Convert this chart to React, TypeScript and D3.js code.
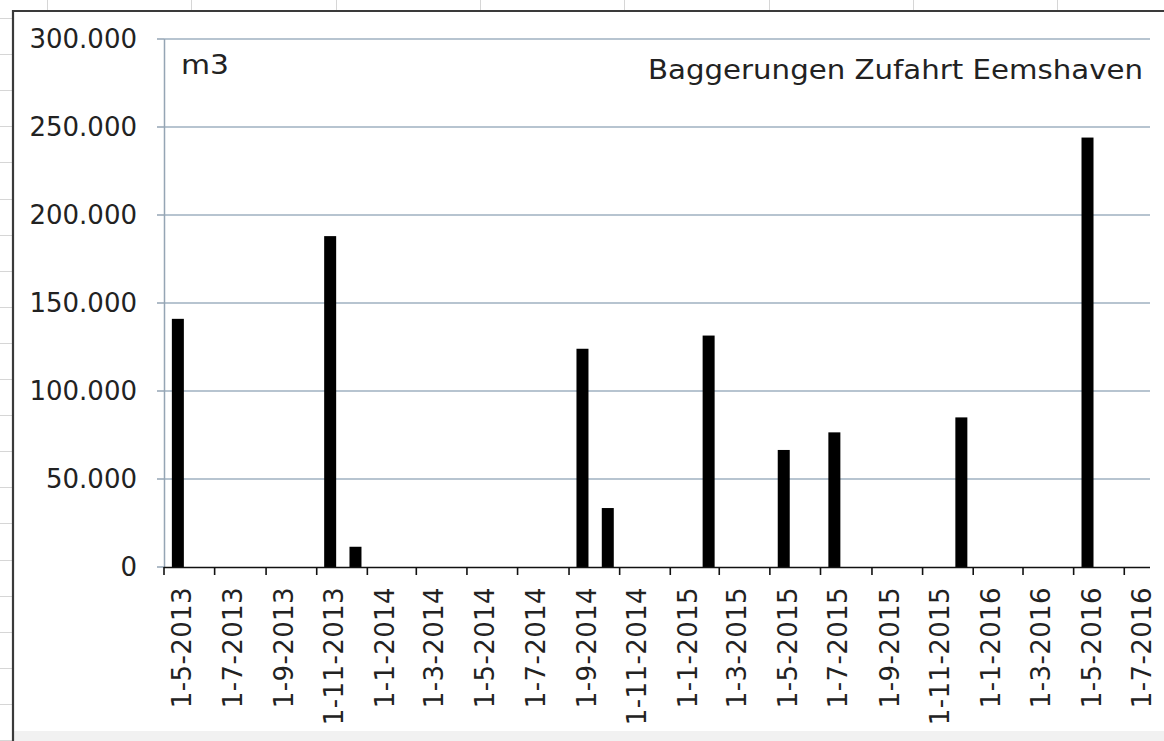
import React, { useEffect, useRef } from 'react';
import * as d3 from 'd3';

// Baggerungen Zufahrt Eemshaven, m3 per Monat
const barMonths = ['2013-05', '2013-11', '2013-12', '2014-09', '2014-10', '2015-02', '2015-05', '2015-07', '2015-12', '2016-05'];
const volumes = [141000, 188000, 11500, 124000, 33500, 131500, 66500, 76500, 85000, 244000];
const yTicks = [0, 50000, 100000, 150000, 200000, 250000, 300000];
const xTickLabels = [
    '1-5-2013', '1-7-2013', '1-9-2013', '1-11-2013', '1-1-2014', '1-3-2014', '1-5-2014',
    '1-7-2014', '1-9-2014', '1-11-2014', '1-1-2015', '1-3-2015', '1-5-2015', '1-7-2015',
    '1-9-2015', '1-11-2015', '1-1-2016', '1-3-2016', '1-5-2016', '1-7-2016'
];

const W = 1164, H = 741;
const FONT = '"DejaVu Sans", Verdana, sans-serif';

export default function App() {
    const ref = useRef<SVGSVGElement>(null);

    useEffect(() => {
        const svg = d3.select(ref.current);
        svg.selectAll('*').remove();

        // Excel-Tabelle im Hintergrund
        svg.append('rect').attr('width', W).attr('height', H).attr('fill', '#fff');
        const sheet = svg.append('g').attr('stroke', '#d6d6d6').attr('stroke-width', 1);
        d3.range(47, W, 144.3).forEach(x => {
            sheet.append('line').attr('x1', Math.round(x) + 0.5).attr('x2', Math.round(x) + 0.5).attr('y1', 0).attr('y2', 11);
        });
        d3.range(18, H, 36.1).forEach(y => {
            sheet.append('line').attr('x1', 0).attr('x2', 12).attr('y1', Math.round(y) + 0.5).attr('y2', Math.round(y) + 0.5);
        });

        // Diagrammrahmen
        svg.append('rect').attr('x', 13).attr('y', 731).attr('width', W - 13).attr('height', H - 731).attr('fill', '#f1f1f1');
        svg.append('path')
            .attr('d', `M13,${H} V11 H${W}`)
            .attr('fill', 'none')
            .attr('stroke', '#3a3a3a')
            .attr('stroke-width', 2.2);

        const parseTick = d3.timeParse('%d-%m-%Y');
        const parseMonth = d3.timeParse('%Y-%m');
        const tickDates = xTickLabels.map(s => parseTick(s) as Date);
        const start = tickDates[0];
        const end = d3.timeMonth.offset(tickDates[tickDates.length - 1], 1);

        const x = d3.scaleTime().domain([start, end]).range([164, 1150]);
        const y = d3.scaleLinear().domain([0, 300000]).range([567, 39]);

        const de = d3.formatLocale({ decimal: ',', thousands: '.', grouping: [3], currency: ['', ' €'] });
        const fmt = de.format(',');

        // Gitternetz
        svg.append('g')
            .selectAll('line')
            .data(yTicks.filter(d => d > 0))
            .enter()
            .append('line')
            .attr('x1', 164).attr('x2', 1150)
            .attr('y1', d => y(d)).attr('y2', d => y(d))
            .attr('stroke', '#9fb0c0')
            .attr('stroke-width', 1.5);

        // y-Achse
        svg.append('line')
            .attr('x1', 164.5).attr('x2', 164.5).attr('y1', 39).attr('y2', 568)
            .attr('stroke', '#95a5b4').attr('stroke-width', 1.5);
        svg.append('g')
            .selectAll('line')
            .data(yTicks)
            .enter()
            .append('line')
            .attr('x1', 157).attr('x2', 164)
            .attr('y1', d => y(d)).attr('y2', d => y(d))
            .attr('stroke', '#95a5b4').attr('stroke-width', 1.5);
        svg.append('g')
            .selectAll('text')
            .data(yTicks)
            .enter()
            .append('text')
            .attr('x', 137)
            .attr('y', d => y(d))
            .attr('dy', '0.35em')
            .attr('text-anchor', 'end')
            .attr('font-family', FONT)
            .attr('font-size', 26)
            .attr('fill', '#222')
            .text(d => fmt(d));

        // Balken
        const bars = barMonths.map((m, i) => ({ date: parseMonth(m) as Date, value: volumes[i] }));
        const barW = 12;
        svg.append('g')
            .selectAll('rect')
            .data(bars)
            .enter()
            .append('rect')
            .attr('x', d => (x(d.date) + x(d3.timeMonth.offset(d.date, 1))) / 2 - barW / 2 + 1)
            .attr('y', d => y(d.value))
            .attr('width', barW)
            .attr('height', d => y(0) - y(d.value))
            .attr('fill', '#000');

        // x-Achse
        svg.append('line')
            .attr('x1', 164).attr('x2', 1150).attr('y1', 567.5).attr('y2', 567.5)
            .attr('stroke', '#111').attr('stroke-width', 1.6);
        svg.append('g')
            .selectAll('line')
            .data(tickDates)
            .enter()
            .append('line')
            .attr('x1', d => x(d)).attr('x2', d => x(d))
            .attr('y1', 567).attr('y2', 575)
            .attr('stroke', '#111').attr('stroke-width', 1.6);
        svg.append('g')
            .selectAll('text')
            .data(tickDates)
            .enter()
            .append('text')
            .attr('transform', d => {
                const cx = (x(d) + x(d3.timeMonth.offset(d, 1))) / 2 + 5;
                return `translate(${cx},587) rotate(-90)`;
            })
            .attr('dy', '0.35em')
            .attr('text-anchor', 'end')
            .attr('font-family', FONT)
            .attr('font-size', 26)
            .attr('letter-spacing', 0.4)
            .attr('fill', '#222')
            .text((d, i) => xTickLabels[i]);

        // Beschriftungen
        svg.append('text')
            .attr('x', 181).attr('y', 74)
            .attr('font-family', FONT).attr('font-size', 26).attr('fill', '#222')
            .attr('textLength', 48).attr('lengthAdjust', 'spacingAndGlyphs')
            .text('m3');
        svg.append('text')
            .attr('x', 648).attr('y', 79)
            .attr('font-family', FONT).attr('font-size', 26).attr('fill', '#222')
            .attr('textLength', 495).attr('lengthAdjust', 'spacingAndGlyphs')
            .text('Baggerungen Zufahrt Eemshaven');
    }, []);

    return (
        <svg ref={ref} width={W} height={H}
             style={{ position: 'absolute', left: 0, top: 0, display: 'block' }} />
    );
}
